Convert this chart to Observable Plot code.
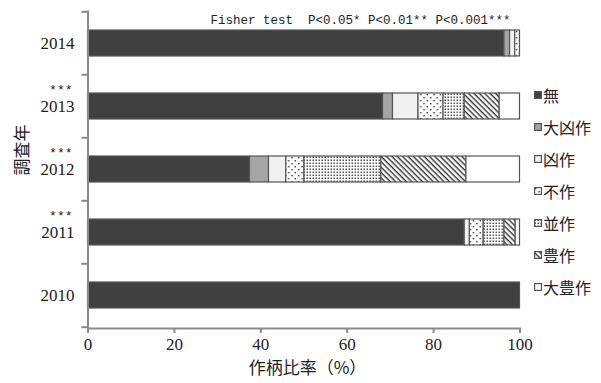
<!DOCTYPE html>
<html>
<head>
<meta charset="utf-8">
<script src="https://cdn.jsdelivr.net/npm/d3@7"></script>
<script src="https://cdn.jsdelivr.net/npm/@observablehq/plot@0.6"></script>
<style>
  body { margin: 0; background: #fff; }
  #wrap { position: relative; width: 601px; height: 383px; }
  #legend { position: absolute; left: 534px; top: 79px; font-family: "Noto Sans CJK JP", sans-serif; font-size: 16px; color: #222; }
  #legend .item { display: flex; align-items: center; height: 32px; }
  #legend svg { margin-right: 1px; }
</style>
</head>
<body>
<!-- fill patterns shared by the bars and the legend swatches -->
<svg width="0" height="0" style="position:absolute">
  <defs>
    <pattern id="dotsSparse" patternUnits="userSpaceOnUse" width="6.6" height="6">
      <rect width="6.6" height="6" fill="#fff"/>
      <rect x="1" y="1" width="1.4" height="1.4" fill="#333"/>
      <rect x="4.3" y="4" width="1.4" height="1.4" fill="#333"/>
    </pattern>
    <pattern id="dotsDense" patternUnits="userSpaceOnUse" width="3" height="3">
      <rect width="3" height="3" fill="#fff"/>
      <rect x="0.5" y="0.5" width="1.5" height="1.5" fill="#555"/>
    </pattern>
    <pattern id="hatch" patternUnits="userSpaceOnUse" width="3.8" height="3.8" patternTransform="rotate(45)">
      <rect width="3.8" height="3.8" fill="#fff"/>
      <rect width="3.8" height="1.4" fill="#333"/>
    </pattern>
  </defs>
</svg>
<div id="wrap"><div id="legend"></div></div>
<script>
const years = ["2014", "2013", "2012", "2011", "2010"];
const categories = ["無", "大凶作", "凶作", "不作", "並作", "豊作", "大豊作"];
const share2014 = [96.4, 1.3, 1.2, 1.1, 0, 0, 0];
const share2013 = [68.3, 2.3, 5.9, 5.8, 4.9, 8.1, 4.7];
const share2012 = [37.5, 4.4, 4.0, 4.2, 17.8, 19.7, 12.4];
const share2011 = [87.2, 0, 1.2, 3.2, 4.8, 2.6, 1.0];
const share2010 = [100, 0, 0, 0, 0, 0, 0];
const significance = ["", "***", "***", "***", ""];
const xTicks = [0, 20, 40, 60, 80, 100];

const fills = ["#404040", "#a5a5a5", "#f1f1f1", "url(#dotsSparse)", "url(#dotsDense)", "url(#hatch)", "#ffffff"];

const sharesByYear = [share2014, share2013, share2012, share2011, share2010];
const rows = [];
years.forEach((year, i) => {
  sharesByYear[i].forEach((v, j) => {
    if (v > 0) rows.push({year, category: categories[j], value: v});
  });
});
const sigRows = years.map((year, i) => ({year, sig: significance[i]})).filter(d => d.sig);

const frameTop = 11, frameBottom = 328;
const step = (frameBottom - frameTop) / years.length;
const axisGray = "#8a8a8a";

const chart = Plot.plot({
  width: 601,
  height: 383,
  marginLeft: 87.5,
  marginRight: 81.5,
  marginTop: frameTop,
  marginBottom: 383 - frameBottom,
  style: {fontFamily: "Liberation Serif, serif", fontSize: "17px", color: "#222", background: "transparent"},
  x: {domain: [0, 100]},
  y: {domain: years, paddingInner: 0.58, paddingOuter: 0.29},
  color: {type: "ordinal", domain: categories, range: fills},
  marks: [
    Plot.barX(rows, Plot.stackX({
      x: "value", y: "year", fill: "category", order: categories,
      stroke: "#555", strokeWidth: 1.2
    })),
    Plot.frame({anchor: "left", stroke: axisGray, strokeWidth: 2}),
    Plot.frame({anchor: "bottom", stroke: axisGray, strokeWidth: 2}),
    Plot.ruleY(years, {y: d => d, dy: -step / 2, x1: -1.4, x2: 0, stroke: axisGray, strokeWidth: 2}),
    Plot.ruleY(["2010"], {y: d => d, dy: step / 2, x1: -1.4, x2: 0, stroke: axisGray, strokeWidth: 2}),
    Plot.axisY({tickSize: 0, tickPadding: 13.5, label: null, fontSize: 17}),
    Plot.axisX({ticks: xTicks, tickSize: 5, tickPadding: 4, label: null, stroke: axisGray, strokeWidth: 2, fontSize: 17}),
    Plot.text(sigRows, {x: 0, y: "year", text: "sig", dx: -15.5, dy: -13, textAnchor: "end", lineAnchor: "bottom",
      fontFamily: "Liberation Mono, monospace", fontSize: 13}),
    Plot.text(["Fisher test\u00a0\u00a0P<0.05* P<0.01** P<0.001***"], {
      frameAnchor: "top-right", dx: -9.5, dy: 8.5, textAnchor: "end", lineAnchor: "middle",
      fontFamily: "Liberation Mono, monospace", fontSize: 12.5
    }),
    Plot.text(["作柄比率（%）"], {frameAnchor: "bottom", dx: 3.5, dy: 45,
      fontFamily: "Noto Sans CJK JP, sans-serif", fontSize: 17}),
    Plot.text(["調査年"], {frameAnchor: "left", dx: -65.5, dy: 5.5, rotate: -90,
      fontFamily: "Noto Sans CJK JP, sans-serif", fontSize: 17})
  ]
});

const wrap = document.getElementById("wrap");
wrap.insertBefore(chart, wrap.firstChild);

// legend: one swatch per crop category
const legend = d3.select("#legend");
categories.forEach((c, i) => {
  const item = legend.append("div").attr("class", "item");
  const sw = item.append("svg").attr("width", 8).attr("height", 8);
  sw.append("rect").attr("x", 0.6).attr("y", 0.6).attr("width", 6.8).attr("height", 6.8)
    .attr("fill", fills[i]).attr("stroke", "#555").attr("stroke-width", 1.2);
  item.append("span").text(c);
});
</script>
</body>
</html>
